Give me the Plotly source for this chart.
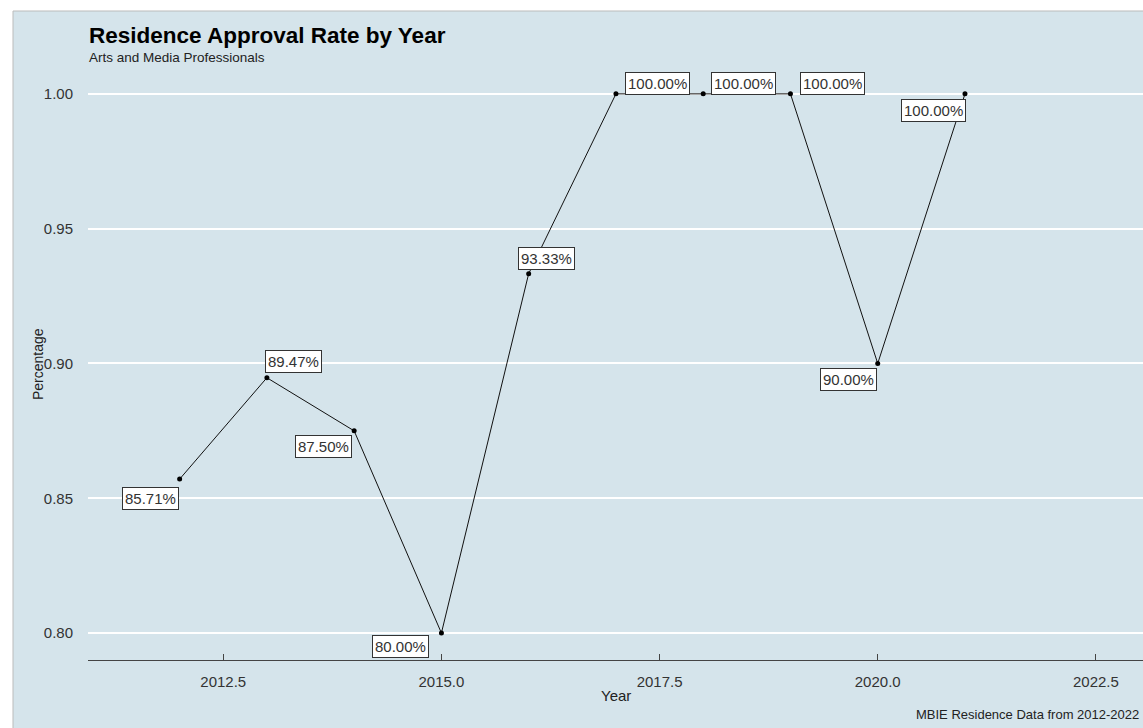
import plotly.graph_objects as go

# Approval rate by year
years = [2012, 2013, 2014, 2015, 2016, 2017, 2018, 2019, 2020, 2021]
rates = [0.8571, 0.8947, 0.8750, 0.8000, 0.9333, 1.0000, 1.0000, 1.0000, 0.9000, 1.0000]

# label nudges (pixels) so boxes sit beside their points
label_dx = [-29, 27, -31, -41, 18, 42, 40, 42, -29, -31]
label_dy = [-19, 16, -16, -13, 15, 10, 10, 10, -16, -17]

x_ticks = [2012.5, 2015.0, 2017.5, 2020.0, 2022.5]
x_tick_text = ["2012.5", "2015.0", "2017.5", "2020.0", "2022.5"]
y_ticks = [0.80, 0.85, 0.90, 0.95, 1.00]
y_tick_text = ["0.80", "0.85", "0.90", "0.95", "1.00"]

BG = "#d5e4eb"
FONT = "Liberation Sans, Arial, sans-serif"

W, H = 1143, 728
ML, MR, MT, MB = 88, 0, 75, 68
PW, PH = W - ML - MR, H - MT - MB


def px_to_paper_x(px):
    return (px - ML) / PW


def px_to_paper_y(py):
    return (H - MB - py) / PH


fig = go.Figure()
fig.add_trace(go.Scatter(
    x=years, y=rates, mode="lines+markers",
    line=dict(color="#111111", width=1),
    marker=dict(color="black", size=5),
    hoverinfo="skip", showlegend=False,
))

annotations = []
for x, y, dx, dy in zip(years, rates, label_dx, label_dy):
    annotations.append(dict(
        x=x, y=y, xref="x", yref="y", text=f"{y * 100:.2f}%",
        showarrow=False, xshift=dx, yshift=dy,
        font=dict(family=FONT, size=15, color="#333333"),
        bgcolor="white", bordercolor="#333333", borderwidth=1, borderpad=2,
    ))

annotations += [
    dict(text="<b>Residence Approval Rate by Year</b>", xref="paper", yref="paper",
         x=px_to_paper_x(87), y=px_to_paper_y(21), xanchor="left", yanchor="top",
         showarrow=False, font=dict(family=FONT, size=22.5, color="black")),
    dict(text="Arts and Media Professionals", xref="paper", yref="paper",
         x=px_to_paper_x(87), y=px_to_paper_y(48), xanchor="left", yanchor="top",
         showarrow=False, font=dict(family=FONT, size=13.5, color="#222222")),
    dict(text="Year", xref="paper", yref="paper",
         x=0.5, y=px_to_paper_y(695), xanchor="center", yanchor="middle",
         showarrow=False, font=dict(family=FONT, size=15, color="#222222")),
    dict(text="Percentage", xref="paper", yref="paper", textangle=-90,
         x=px_to_paper_x(38), y=px_to_paper_y(364), xanchor="center", yanchor="middle",
         showarrow=False, font=dict(family=FONT, size=14, color="#222222")),
    dict(text="MBIE Residence Data from 2012-2022", xref="paper", yref="paper",
         x=px_to_paper_x(1141), y=px_to_paper_y(714), xanchor="right", yanchor="middle",
         showarrow=False, font=dict(family=FONT, size=13, color="#222222")),
]

fig.update_layout(
    width=W, height=H,
    margin=dict(l=ML, r=MR, t=MT, b=MB),
    paper_bgcolor="white", plot_bgcolor=BG,
    font=dict(family=FONT),
    annotations=annotations,
    shapes=[dict(
        type="rect", xref="paper", yref="paper", layer="below",
        x0=px_to_paper_x(13), x1=px_to_paper_x(1145),
        y0=px_to_paper_y(730), y1=px_to_paper_y(11),
        fillcolor=BG, line=dict(color="#bbbbbb", width=1),
    )],
    xaxis=dict(
        range=[2010.95, 2023.04], tickvals=x_ticks, ticktext=x_tick_text,
        showgrid=False, zeroline=False,
        showline=True, linecolor="#444444", linewidth=1,
        ticks="inside", ticklen=6, tickcolor="#444444",
        tickfont=dict(family=FONT, size=15, color="#333333"),
        ticklabelstandoff=8,
    ),
    yaxis=dict(
        range=[0.79, 1.007], tickvals=y_ticks, ticktext=y_tick_text,
        showgrid=True, gridcolor="white", gridwidth=2, zeroline=False,
        showline=False, ticks="",
        tickfont=dict(family=FONT, size=15, color="#333333"),
        ticklabelstandoff=14,
    ),
)

fig.write_html("out.html")
